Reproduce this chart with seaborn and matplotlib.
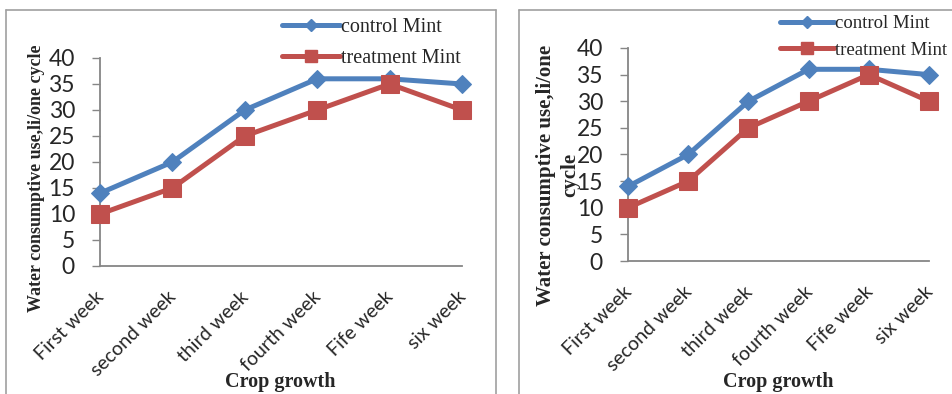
import numpy as np
import pandas as pd
import matplotlib
matplotlib.use("Agg")
import matplotlib.pyplot as plt
from matplotlib.lines import Line2D
from matplotlib.transforms import ScaledTranslation
import seaborn as sns

weeks = ["First week", "second week", "third week", "fourth week", "Fife week", "six week"]
control_mint = [14, 20, 30, 36, 36, 35]
treatment_mint = [10, 15, 25, 30, 35, 30]
y_ticks = [0, 5, 10, 15, 20, 25, 30, 35, 40]

BLUE = "#4F81BD"
RED = "#C0504D"
GRAY = "#868686"

sns.set_theme(style="white")
plt.rcParams["font.family"] = ["Lato", "DejaVu Sans"]

W, H = 953, 394
fig = plt.figure(figsize=(W / 100, H / 100), dpi=100)
fig.patch.set_facecolor("white")

df = pd.DataFrame({"pos": np.arange(len(weeks)),
                   "control": control_mint,
                   "treatment": treatment_mint})


def px(x, y):
    return x / W, 1 - y / H


def frame(x0, x1, y0):
    # light gray chart-area border (open at the bottom edge of the figure)
    kw = dict(color="#A0A0A0", lw=1.2, transform=fig.transFigure)
    fig.add_artist(Line2D([x0 / W, x1 / W], [1 - y0 / H] * 2, **kw))
    fig.add_artist(Line2D([x0 / W] * 2, [1 - y0 / H, 0], **kw))
    fig.add_artist(Line2D([x1 / W] * 2, [1 - y0 / H, 0], **kw))


frame(6, 496, 10)
frame(519, 960, 10)


def panel(rect, ylabel, ylabel_xy, ylabel_size, xlabel_xy, leg_xy, leg_size, leg_spacing):
    ax = fig.add_axes(rect)
    sns.lineplot(data=df, x="pos", y="control", ax=ax, color=BLUE, lw=3.6,
                 marker="D", markersize=9, markeredgecolor=BLUE, clip_on=False, zorder=3)
    sns.lineplot(data=df, x="pos", y="treatment", ax=ax, color=RED, lw=3.6,
                 marker="s", markersize=13.5, markeredgecolor=RED, clip_on=False, zorder=4)
    ax.set_xlim(0, len(weeks) - 1)
    ax.set_ylim(0, 40)
    ax.set_yticks(y_ticks)
    ax.set_yticklabels([str(v) for v in y_ticks], fontsize=16.5)
    ax.set_xticks(df["pos"])
    # rotated labels ending (at their baseline) just below each category
    ax.set_xticklabels(weeks, rotation=45, ha="right", va="baseline",
                       rotation_mode="anchor", fontsize=14)
    ax.tick_params(axis="y", length=6, width=1, color=GRAY, direction="out", pad=12, left=True)
    ax.tick_params(axis="x", length=0, pad=23)
    shift = ScaledTranslation(5 / 100, 0, fig.dpi_scale_trans)
    for lab in ax.get_xticklabels():
        lab.set_transform(lab.get_transform() + shift)
    for s in ("top", "right"):
        ax.spines[s].set_visible(False)
    for s in ("left", "bottom"):
        ax.spines[s].set_color(GRAY)
        ax.spines[s].set_linewidth(1.3)
    ax.set_xlabel("")
    ax.set_ylabel("")
    ax.set_facecolor("none")

    fig.text(*px(*ylabel_xy), ylabel, rotation=90, ha="center", va="center",
             fontsize=ylabel_size, fontweight="bold", family="Liberation Serif",
             multialignment="center", linespacing=1.3)
    fig.text(*px(*xlabel_xy), "Crop growth", ha="center", va="center",
             fontsize=14.5, fontweight="bold", family="Liberation Serif")

    handles = [
        Line2D([], [], color=BLUE, lw=3.6, marker="D", markersize=6, markeredgecolor=BLUE),
        Line2D([], [], color=RED, lw=3.6, marker="s", markersize=9, markeredgecolor=RED),
    ]
    ax.legend(handles, ["control Mint", "treatment Mint"], loc="upper left",
              bbox_to_anchor=px(*leg_xy), bbox_transform=fig.transFigure,
              frameon=False, borderpad=0, borderaxespad=0, handlelength=2.9,
              handletextpad=0.05, labelspacing=leg_spacing,
              prop={"family": "Liberation Serif", "size": leg_size})
    return ax


panel([100 / W, 1 - 266 / H, 362 / W, 208 / H],
      "Water consumptive use,li/one cycle", (37, 178), 13, (280, 382),
      (282, 18), 14.5, 0.6)
panel([628 / W, 1 - 261 / H, 301 / W, 213 / H],
      "Water consumptive use,li/one\ncycle", (558, 175), 15, (778, 382),
      (780, 15), 13.5, 0.5)

fig.savefig("out.png", dpi=100, facecolor="white")
